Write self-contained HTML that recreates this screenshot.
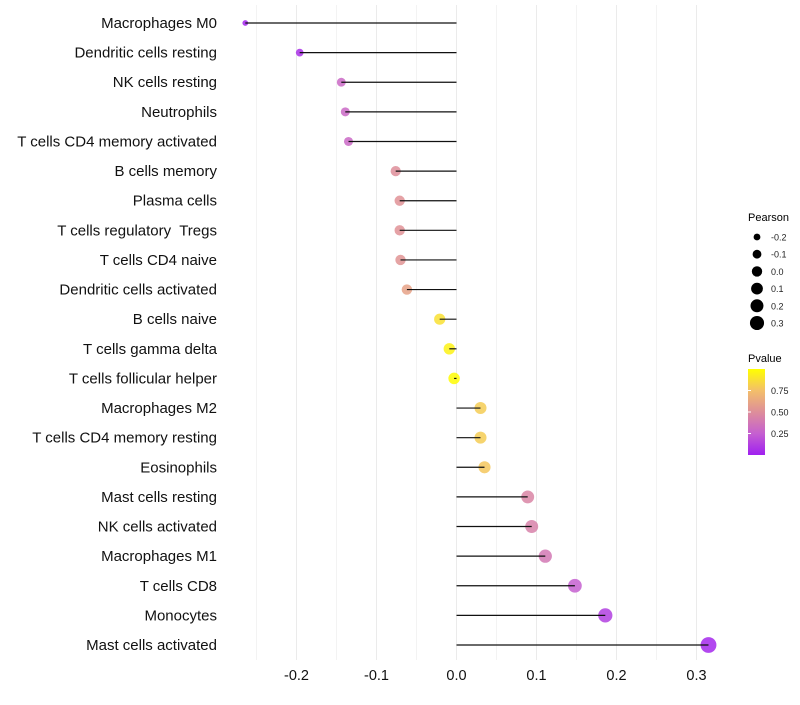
<!DOCTYPE html>
<html><head><meta charset="utf-8"><style>
body{margin:0;background:#fff;}
svg text{font-family:"Liberation Sans",sans-serif;white-space:pre;}
</style></head><body>
<svg id="chart" width="800" height="700" xmlns="http://www.w3.org/2000/svg">
<defs><linearGradient id="pg" x1="0" y1="1" x2="0" y2="0">
<stop offset="0" stop-color="#a020f0"/><stop offset="0.25" stop-color="#c560d0"/><stop offset="0.5" stop-color="#de8e9a"/><stop offset="0.75" stop-color="#f3bf6a"/><stop offset="1" stop-color="#ffff00"/></linearGradient></defs>
<g id="grid"></g>
<g id="marks"></g>
<g id="ylabels"></g>
<g id="xlabels"></g>
<g id="legS">
<text x="748" y="221" font-size="11">Pearson</text>
</g>
<g>
<text x="748" y="362" font-size="11">Pvalue</text>
<rect x="748" y="369" width="17" height="86" fill="url(#pg)"/>
<g id="legC"></g>
</g>
</svg>
<script>
const categories=["Macrophages M0","Dendritic cells resting","NK cells resting","Neutrophils","T cells CD4 memory activated","B cells memory","Plasma cells","T cells regulatory  Tregs","T cells CD4 naive","Dendritic cells activated","B cells naive","T cells gamma delta","T cells follicular helper","Macrophages M2","T cells CD4 memory resting","Eosinophils","Mast cells resting","NK cells activated","Macrophages M1","T cells CD8","Monocytes","Mast cells activated"];
const pearson=[-0.264,-0.196,-0.144,-0.139,-0.135,-0.076,-0.071,-0.071,-0.070,-0.062,-0.021,-0.009,-0.003,0.030,0.030,0.035,0.089,0.094,0.111,0.148,0.186,0.315];
const pvalue=[0.02,0.06,0.3,0.3,0.3,0.5,0.52,0.52,0.53,0.6,0.88,0.95,0.99,0.8,0.8,0.78,0.45,0.43,0.38,0.25,0.12,0.03];
const xTicks=[-0.2,-0.1,0.0,0.1,0.2,0.3];
const xTickLabels=["-0.2","-0.1","0.0","0.1","0.2","0.3"];
const sizeLegend=[-0.2,-0.1,0.0,0.1,0.2,0.3];
const sizeLegendLabels=["-0.2","-0.1","0.0","0.1","0.2","0.3"];
const colorLegend=[0.25,0.5,0.75];
const colorLegendLabels=["0.25","0.50","0.75"];
const NS="http://www.w3.org/2000/svg";
const x=v=>456.5+v*800;
const y=i=>23+i*(622/21);
const r=v=>1.1*Math.sqrt(Math.max(4,27.5+77.8*v));
const stops=[[0,[160,32,240]],[0.25,[197,96,208]],[0.5,[222,142,154]],[0.75,[243,191,106]],[1,[255,255,0]]];
function col(p){for(let k=1;k<stops.length;k++){if(p<=stops[k][0]){const a=stops[k-1],b=stops[k],t=(p-a[0])/(b[0]-a[0]);return 'rgb('+a[1].map((c,j)=>Math.round(c+(b[1][j]-c)*t)).join(',')+')';}}return 'rgb(255,255,0)';}
function mk(tag,at,parent){const e=document.createElementNS(NS,tag);for(const k in at)e.setAttribute(k,at[k]);parent.appendChild(e);return e;}
const grid=document.getElementById('grid');
for(let v=-0.25;v<=0.301;v+=0.05){const gl=mk('line',{x1:x(v),x2:x(v),y1:5,y2:660,stroke:'#ebebeb','stroke-width':Math.abs(Math.round(v*100)%10)<1?1:0.6},grid);

}
const marks=document.getElementById('marks'),yl=document.getElementById('ylabels'),xl=document.getElementById('xlabels');
categories.forEach((c,i)=>{
const cy=y(i);
const pt=mk('circle',{cx:x(pearson[i]),cy:cy,r:r(pearson[i]),fill:col(pvalue[i]),'fill-opacity':0.85},marks);


const ln=mk('line',{x1:x(0),x2:x(pearson[i]),y1:cy,y2:cy,stroke:'#111','stroke-width':1.2},marks);


const t=mk('text',{x:217,y:cy+5,'text-anchor':'end','font-size':15,fill:'#111'},yl);t.textContent=c;


});
xTicks.forEach((v,i)=>{const t=mk('text',{x:x(v),y:680,'text-anchor':'middle','font-size':14.5,fill:'#111'},xl);t.textContent=xTickLabels[i];

});
const legS=document.getElementById('legS');
sizeLegend.forEach((v,i)=>{const cy=237+i*17.2;
const c=mk('circle',{cx:757,cy:cy,r:r(v)*0.9,fill:'#000'},legS);


const t=mk('text',{x:771,y:cy+3.5,'font-size':9,fill:'#222'},legS);t.textContent=sizeLegendLabels[i];

});
const legC=document.getElementById('legC');
colorLegend.forEach((v,i)=>{const cy=455-v*86;
const tk=mk('line',{x1:748,x2:751,y1:cy,y2:cy,stroke:'#fff'},legC);


const t=mk('text',{x:771,y:cy+3.5,'font-size':9,fill:'#222'},legC);t.textContent=colorLegendLabels[i];

});
</script>
</body></html>
